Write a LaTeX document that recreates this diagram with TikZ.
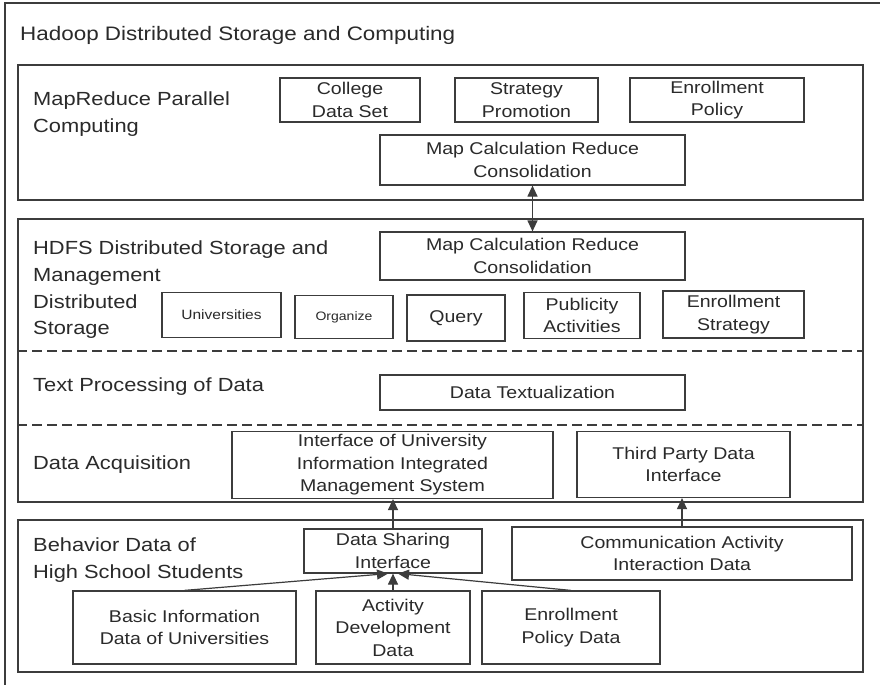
\documentclass[tikz,border=0pt]{standalone}
\usepackage{fontspec}
\setmainfont{Liberation Sans}[FakeStretch=1.15]
\usetikzlibrary{arrows.meta}
\definecolor{ln}{HTML}{3C3C3C}
\definecolor{txt}{HTML}{2A2A2A}
\begin{document}
\begin{tikzpicture}[x=1pt,y=-1pt,
  frame/.style={draw=ln, line width=1.5pt, inner sep=0pt},
  box/.style={draw=ln, line width=1.2pt, inner sep=0pt, align=center, text=txt,
    font=\fontsize{17}{22.5}\selectfont},
  lbl/.style={anchor=west, inner sep=0pt, align=left, text=txt,
    font=\fontsize{19}{26.5}\selectfont},
  tipshape/.tip={Triangle[length=11pt,width=10pt]},
  arr/.style={draw=ln, line width=1.2pt, -tipshape},
  dline/.style={draw=ln, line width=1.4pt, dash pattern=on 10pt off 5pt},
]
\useasboundingbox (0,0) rectangle (880,685);
\fill[white] (0,0) rectangle (880,685);

% outer frame
\coordinate (otr) at (880,3);
\coordinate (otl) at (5,3);
\coordinate (obl) at (5,685);
\draw[ln, line width=1.5pt] (otr) -- (otl) -- (obl);
\node[lbl, font=\fontsize{19.5}{26}\selectfont] (title) at (20,35) {Hadoop Distributed Storage and Computing};

% MapReduce layer
\node[frame, minimum width=845pt, minimum height=135pt] (mr) at (440.5,132.5) {};
\node[lbl] (mrl) at (33,114) {MapReduce Parallel\\Computing};
\node[box, minimum width=140pt, minimum height=44pt] (college) at (350,100) {College\\Data Set};
\node[box, minimum width=143pt, minimum height=44pt] (strat) at (526.5,100) {Strategy\\Promotion};
\node[box, minimum width=174pt, minimum height=44pt] (enrp) at (717,100) {Enrollment\\Policy};
\node[box, minimum width=305pt, minimum height=50pt] (mc1) at (532.5,160) {Map Calculation Reduce\\Consolidation};

% HDFS / text / acquisition layer
\node[frame, minimum width=845pt, minimum height=283pt] (hdfs) at (440.5,360.5) {};
\node[lbl] (hdl) at (33,263) {HDFS Distributed Storage and\\Management};
\node[lbl] (dsl) at (33,316.5) {Distributed\\Storage};
\node[box, minimum width=305pt, minimum height=48pt] (mc2) at (532.5,256) {Map Calculation Reduce\\Consolidation};
\node[box, minimum width=119pt, minimum height=45pt, font=\fontsize{13.5}{16}\selectfont] (univ) at (221.5,315) {Universities};
\node[box, minimum width=98pt, minimum height=43pt, font=\fontsize{12.2}{15}\selectfont] (org) at (344,317) {Organize};
\node[box, minimum width=98pt, minimum height=46pt] (query) at (456,318) {Query};
\node[box, minimum width=116pt, minimum height=46pt] (pub) at (582,315.5) {Publicity\\Activities};
\node[box, minimum width=141pt, minimum height=47pt] (enrs) at (733.5,314.5) {Enrollment\\Strategy};
\draw[dline] (hdfs.west |- 0,351) -- (hdfs.east |- 0,351);
\node[lbl] (tpl) at (33,387) {Text Processing of Data};
\node[box, minimum width=305pt, minimum height=35pt] (tex) at (532.5,392.5) {Data Textualization};
\draw[dline] (hdfs.west |- 0,425) -- (hdfs.east |- 0,425);
\node[lbl] (dal) at (33,465) {Data Acquisition};
\node[box, minimum width=321pt, minimum height=67pt] (iface) at (392.5,465) {Interface of University\\Information Integrated\\Management System};
\node[box, minimum width=213pt, minimum height=66pt] (third) at (683.5,464.5) {Third Party Data\\Interface};

% behaviour layer
\node[frame, minimum width=845pt, minimum height=152pt] (beh) at (440.5,596) {};
\node[lbl] (bhl) at (33,560) {Behavior Data of\\High School Students};
\node[box, minimum width=178pt, minimum height=44pt] (dsi) at (393,551) {Data Sharing\\Interface};
\node[box, minimum width=340pt, minimum height=53pt] (comm) at (682,553.5) {Communication Activity\\Interaction Data};
\node[box, minimum width=223pt, minimum height=73pt] (basic) at (184.5,627.5) {Basic Information\\Data of Universities};
\node[box, minimum width=154pt, minimum height=73pt] (act) at (393,627.5) {Activity\\Development\\Data};
\node[box, minimum width=178pt, minimum height=73pt] (enrd) at (571,627.5) {Enrollment\\Policy Data};

% connectors
\draw[draw=ln, line width=1.2pt, tipshape-tipshape] (mc1.south) -- (mc2.north);
\draw[arr] (dsi.north) -- (iface.south -| dsi.north);
\draw[arr] (comm.north) -- (third.south -| comm.north);
\draw[arr] (basic.north) -- ([xshift=-5pt]dsi.south);
\draw[arr] (act.north) -- (dsi.south);
\draw[arr] (enrd.north) -- ([xshift=5pt]dsi.south);
\end{tikzpicture}
\end{document}
